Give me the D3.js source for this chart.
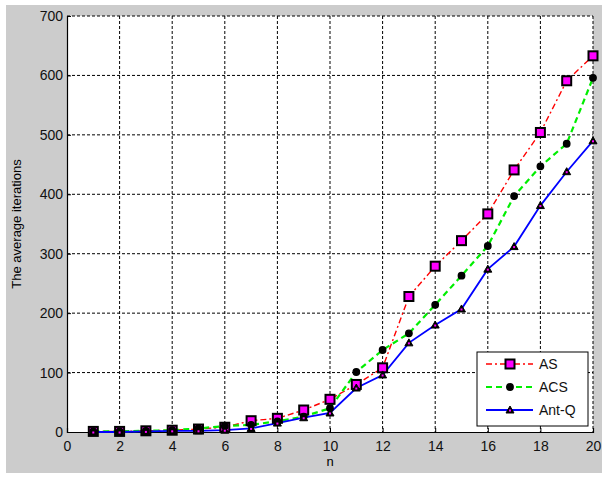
<!DOCTYPE html>
<html><head><meta charset="utf-8">
<script src="https://cdn.jsdelivr.net/npm/d3@7"></script>
<style>body{margin:0;background:#fff}text{font-family:"Liberation Sans",Arial,sans-serif}</style>
</head><body><svg id="c" width="602" height="477"></svg>
<script>
const nValues = [1,2,3,4,5,6,7,8,9,10,11,12,13,14,15,16,17,18,19,20];
const asValues = [1,1,2,3,5,8,19,23,37,55,80,108,228,279,322,367,441,504,591,633];
const acsValues = [1,1,2,3,6,10,12,18,26,40,101,138,166,214,263,313,397,447,485,596];
const antqValues = [0,0,1,2,2,3,6,15,24,32,74,96,150,180,207,274,312,381,438,490];
const xTicks = [0,2,4,6,8,10,12,14,16,18,20];
const yTicks = [0,100,200,300,400,500,600,700];
const seriesNames = ["AS","ACS","Ant-Q"];

const svg = d3.select("#c");
svg.append("rect").attr("x",6).attr("y",5).attr("width",596).attr("height",468).attr("fill","#cccccc");
const L=67,R=593,T=16,B=432;
const x = d3.scaleLinear().domain([0,20]).range([L,R]);
const y = d3.scaleLinear().domain([0,700]).range([B,T]);
svg.append("rect").attr("x",L).attr("y",T).attr("width",R-L).attr("height",B-T).attr("fill","#fff");

// grid
const g = svg.append("g");
g.selectAll(".vx").data(xTicks.filter(d=>d>0)).enter().append("line")
 .attr("x1",d=>x(d)).attr("x2",d=>x(d)).attr("y1",T).attr("y2",B)
 .attr("stroke","#000").attr("stroke-width",1).attr("stroke-dasharray","3,2");
g.selectAll(".hy").data(yTicks.filter(d=>d>0)).enter().append("line")
 .attr("y1",d=>y(d)).attr("y2",d=>y(d)).attr("x1",L).attr("x2",R)
 .attr("stroke","#000").attr("stroke-width",1).attr("stroke-dasharray","3,2");

// axes
const xa = svg.append("g").attr("transform",`translate(0,${B})`)
 .call(d3.axisBottom(x).tickValues(xTicks).tickSize(-4).tickPadding(6).tickFormat(d3.format("d")));
const ya = svg.append("g").attr("transform",`translate(${L},0)`)
 .call(d3.axisLeft(y).tickValues(yTicks).tickSize(-4).tickPadding(4).tickFormat(d3.format("d")));
[xa,ya].forEach(a=>{a.select(".domain").attr("stroke","#000").attr("stroke-width",1.2);
 a.selectAll("text").attr("font-size",14).attr("fill","#111").style("font-family","Liberation Sans, Arial, sans-serif");});
xa.selectAll("text").attr("dy","0.9em");
svg.append("text").attr("x",330).attr("y",466).attr("text-anchor","middle").attr("font-size",13).text("n");
svg.append("text").attr("transform","translate(21,224) rotate(-90)").attr("text-anchor","middle").attr("font-size",13).text("The average iterations");

const series = [
 {name:seriesNames[0], vals:asValues, color:"#ff0000", dash:"6,3,2,3", w:1.4, marker:"square"},
 {name:seriesNames[1], vals:acsValues, color:"#00ee00", dash:"6,4", w:2.2, marker:"dot"},
 {name:seriesNames[2], vals:antqValues, color:"#0000ff", dash:null, w:1.8, marker:"tri"}
];
const line = d3.line().x((d,i)=>x(nValues[i])).y(d=>y(d));
function drawMarker(sel, type){
 if(type==="square"){
  sel.append("rect").attr("x",-4.5).attr("y",-4.5).attr("width",9).attr("height",9)
   .attr("fill","#ff00ff").attr("stroke","#000").attr("stroke-width",2);
 } else if(type==="dot"){
  sel.append("circle").attr("r",3.2).attr("fill","#000").attr("stroke","#000").attr("stroke-width",1.4);
 } else {
  sel.append("path").attr("d","M0,-4L4,3L-4,3Z").attr("fill","#000").attr("stroke","#000").attr("stroke-width",1);
  sel.append("rect").attr("x",-1).attr("y",-0.5).attr("width",2).attr("height",2).attr("fill","#ff00ff");
 }
}
series.forEach(s=>{
 svg.append("path").attr("d",line(s.vals)).attr("fill","none").attr("stroke",s.color)
  .attr("stroke-width",s.w).attr("stroke-dasharray",s.dash);
});
series.forEach(s=>{
 s.vals.forEach((v,i)=>{
  const m = svg.append("g").attr("transform",`translate(${x(nValues[i])},${y(v)})`);
  drawMarker(m,s.marker);
 });
});

// legend
const lg = svg.append("g");
lg.append("rect").attr("x",477).attr("y",352).attr("width",111).attr("height",74).attr("fill","#fff").attr("stroke","#000").attr("stroke-width",1);
series.forEach((s,i)=>{
 const yy = 364 + i*23;
 lg.append("line").attr("x1",486).attr("x2",533).attr("y1",yy).attr("y2",yy).attr("stroke",s.color)
  .attr("stroke-width",s.w).attr("stroke-dasharray",s.dash);
 drawMarker(lg.append("g").attr("transform",`translate(510,${yy})`), s.marker);
 lg.append("text").attr("x",539).attr("y",yy).attr("dy","0.36em").attr("font-size",14).attr("fill","#111").text(s.name);
});
</script></body></html>
